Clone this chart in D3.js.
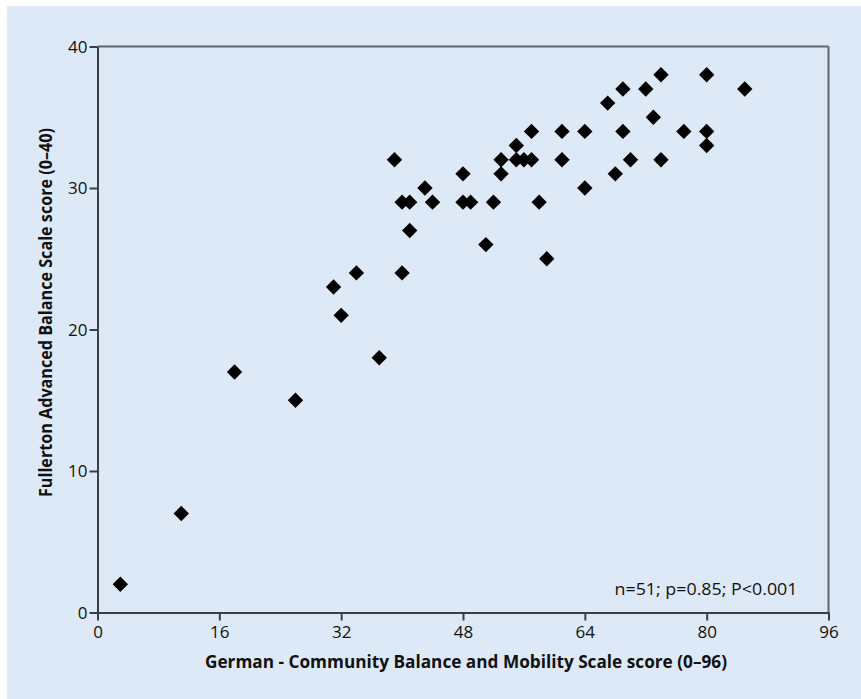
<!DOCTYPE html>
<html>
<head>
<meta charset="utf-8">
<script src="https://cdn.jsdelivr.net/npm/d3@7"></script>
<style>
  html, body { margin: 0; padding: 0; background: #ffffff; }
  svg { display: block; }
  text { font-family: "Open Sans", "Noto Sans", sans-serif; fill: #111; }
</style>
</head>
<body>
<svg id="chart" width="861" height="699"></svg>
<script>
// Community Balance and Mobility Scale (x) vs. Fullerton Advanced Balance Scale (y)
const cbmScores = [3, 11, 18, 26, 31, 32, 34, 37, 40, 39, 43, 40, 41, 44, 41, 48, 48, 49, 52, 51,
                   53, 53, 55, 56, 57, 55, 61, 58, 59, 64, 74, 80, 69, 72, 85, 67, 73, 61, 64, 69,
                   77, 80, 80, 70, 74, 68, 57];
const fabScores = [2, 7, 17, 15, 23, 21, 24, 18, 24, 32, 30, 29, 29, 29, 27, 31, 29, 29, 29, 26,
                   32, 31, 32, 32, 32, 33, 32, 29, 25, 30, 38, 38, 37, 37, 37, 36, 35, 34, 34, 34,
                   34, 34, 33, 32, 32, 31, 34];
const xTicks = [0, 16, 32, 48, 64, 80, 96];
const yTicks = [0, 10, 20, 30, 40];
const xTitle = "German - Community Balance and Mobility Scale score (0\u201396)";
const yTitle = "Fullerton Advanced Balance Scale score (0\u201340)";
const statsNote = "n=51; p=0.85; P<0.001";

const points = cbmScores.map((x, i) => ({ x, y: fabScores[i] }));

const svg = d3.select("#chart");
const W = 861, H = 699;
const margin = { left: 97.5, top: 46.5, right: W - 828.5, bottom: H - 612.5 };
const innerW = W - margin.left - margin.right;
const innerH = H - margin.top - margin.bottom;

// panel background
svg.append("rect")
  .attr("x", 7).attr("y", 6)
  .attr("width", W - 7).attr("height", H - 6)
  .attr("fill", "#dde9f7");

const g = svg.append("g").attr("transform", `translate(${margin.left},${margin.top})`);

const x = d3.scaleLinear().domain([0, 96]).range([0, innerW]);
const y = d3.scaleLinear().domain([0, 40]).range([innerH, 0]);

const axisColor = "#3a3f45";

// top and right frame lines
g.append("line").attr("x1", 0).attr("x2", innerW).attr("y1", 0).attr("y2", 0)
  .attr("stroke", "#5d6670").attr("stroke-width", 2);
g.append("line").attr("x1", innerW).attr("x2", innerW).attr("y1", 0).attr("y2", innerH)
  .attr("stroke", "#5d6670").attr("stroke-width", 2);

const xAxis = g.append("g")
  .attr("transform", `translate(0,${innerH})`)
  .call(d3.axisBottom(x).tickValues(xTicks).tickFormat(d3.format("d")).tickSizeInner(8).tickSizeOuter(0).tickPadding(5));

const yAxis = g.append("g")
  .call(d3.axisLeft(y).tickValues(yTicks).tickFormat(d3.format("d")).tickSizeInner(8).tickSizeOuter(0).tickPadding(2));

[xAxis, yAxis].forEach(ax => {
  ax.select(".domain").attr("stroke", axisColor).attr("stroke-width", 2);
  ax.selectAll(".tick line").attr("stroke", axisColor).attr("stroke-width", 2);
  ax.selectAll(".tick text")
    .attr("font-family", "'Open Sans', 'Noto Sans', sans-serif")
    .attr("font-size", 17)
    .attr("fill", "#111");
});
yAxis.selectAll(".tick text").attr("dy", "0.34em");

// diamond markers
const diamond = d3.symbol().type(d3.symbolSquare).size(118);
g.append("g").selectAll("path")
  .data(points)
  .join("path")
  .attr("d", diamond)
  .attr("transform", d => `translate(${x(d.x)},${y(d.y)}) rotate(45)`)
  .attr("fill", "#000");

// set a text element to an exact width while keeping its font size
function setWidth(sel, width) {
  sel.attr("textLength", width).attr("lengthAdjust", "spacingAndGlyphs");
}

const note = g.append("text")
  .attr("x", innerW - 31).attr("y", innerH - 17.5)
  .attr("text-anchor", "end")
  .attr("font-size", 17)
  .text(statsNote);
setWidth(note, 183);

const xt = svg.append("text")
  .attr("x", (205 + 727) / 2).attr("y", 668)
  .attr("text-anchor", "middle")
  .attr("font-size", 17).attr("font-weight", "bold")
  .text(xTitle);
setWidth(xt, 522);

const yt = svg.append("text")
  .attr("transform", `translate(52,${(128 + 497) / 2}) rotate(-90)`)
  .attr("text-anchor", "middle")
  .attr("font-size", 17).attr("font-weight", "bold")
  .text(yTitle);
setWidth(yt, 369);
</script>
</body>
</html>
